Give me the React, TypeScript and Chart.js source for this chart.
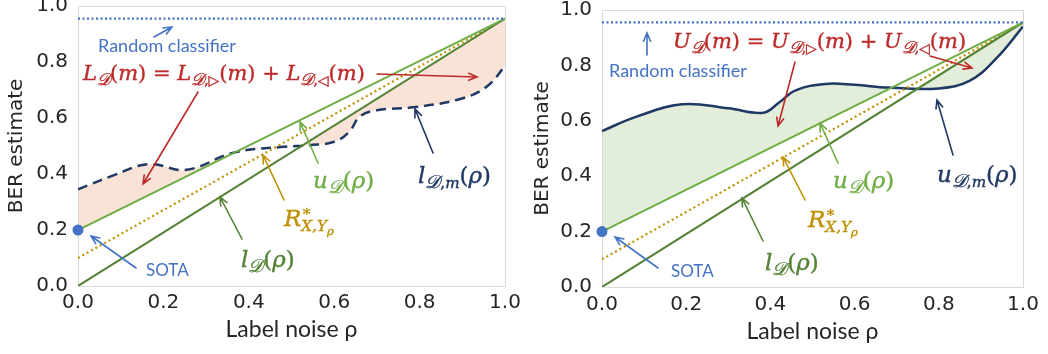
import React, { useEffect, useRef } from 'react';
import { Chart, registerables } from 'chart.js';

Chart.register(...registerables);

// ---------- data ----------
const RHO_ENDS = [0, 1];
const RANDOM_BER = [0.955, 0.955];
const U_D = [0.2, 0.955];
const L_D = [0, 0.955];
const R_STAR = [0.1, 0.955];
const SOTA_RHO = [0];
const SOTA_BER = [0.2];
const LOWER_RHO = [0, 0.083, 0.165, 0.254, 0.364, 0.48, 0.543, 0.6, 0.635, 0.66, 0.7, 0.785, 0.895, 0.957, 1.0];
const LOWER_BER = [0.345, 0.395, 0.435, 0.415, 0.476, 0.497, 0.503, 0.515, 0.55, 0.605, 0.628, 0.638, 0.668, 0.712, 0.785];
const UPPER_RHO = [0, 0.082, 0.19, 0.3, 0.383, 0.42, 0.46, 0.53, 0.6, 0.68, 0.8, 0.874, 0.937, 1.0];
const UPPER_BER = [0.563, 0.615, 0.66, 0.645, 0.629, 0.665, 0.71, 0.733, 0.73, 0.72, 0.717, 0.745, 0.826, 0.94];
const X_TICKS = [0, 0.2, 0.4, 0.6, 0.8, 1.0];
const Y_TICKS = [0, 0.2, 0.4, 0.6, 0.8, 1.0];
const X_TITLE = 'Label noise ρ';
const Y_TITLE = 'BER estimate';

// ---------- styles ----------
const TICK_FONT = "'DejaVu Sans', sans-serif";
const LABEL_FONT = "Lato, 'Open Sans', sans-serif";
const MATH_FONT = "'DejaVu Serif', serif";
const C_BLUE = '#4472C4';
const C_LGREEN = '#70AD47';
const C_DGREEN = '#548235';
const C_ORANGE = '#BF9000';
const C_NAVY = '#1F3864';
const C_RED = '#BE2A2A';
const C_TEXT = '#262626';
const NONE = 'rgba(255,255,255,0)';

type Tok = { t: string; k?: 'i' | 'r'; lvl?: number; stack?: boolean };
const it = (t: string): Tok => ({ t, k: 'i' });
const up = (t: string): Tok => ({ t, k: 'r' });
const sb = (t: string, k: 'i' | 'r' = 'i'): Tok => ({ t, k, lvl: -1 });
const D = '𝒟';

const lowerFormula: Tok[] = [
  it('L'), sb(D), up('('), it('m'), up(')'), up(' = '),
  it('L'), sb(D), sb(',', 'r'), sb('▷', 'r'), up('('), it('m'), up(')'), up(' + '),
  it('L'), sb(D), sb(',', 'r'), sb('◁', 'r'), up('('), it('m'), up(')'),
];
const upperFormula: Tok[] = [
  it('U'), sb(D), up('('), it('m'), up(')'), up(' = '),
  it('U'), sb(D), sb(',', 'r'), sb('▷', 'r'), up('('), it('m'), up(')'), up(' + '),
  it('U'), sb(D), sb(',', 'r'), sb('◁', 'r'), up('('), it('m'), up(')'),
];
const lDm: Tok[] = [it('l'), sb(D), sb(',', 'r'), sb('m'), up('('), it('ρ'), up(')')];
const uDm: Tok[] = [it('u'), sb(D), sb(',', 'r'), sb('m'), up('('), it('ρ'), up(')')];
const uD: Tok[] = [it('u'), sb(D), up('('), it('ρ'), up(')')];
const lD: Tok[] = [it('l'), sb(D), up('('), it('ρ'), up(')')];
const rStar: Tok[] = [it('R'), { t: '∗', k: 'r', lvl: 1, stack: true }, sb('X,Y'), { t: 'ρ', k: 'i', lvl: -2 }];

type Ann =
  | { type: 'arrow'; from: [number, number]; to: [number, number]; color: string }
  | { type: 'text'; x: number; y: number; text: string; size: number; color: string }
  | { type: 'math'; x: number; y: number; toks: Tok[]; size: number; color: string };

function drawMath(ctx: CanvasRenderingContext2D, toks: Tok[], x: number, y: number, size: number, color: string) {
  let cx = x;
  ctx.fillStyle = color;
  ctx.strokeStyle = color;
  ctx.lineWidth = 0.4;
  ctx.textAlign = 'left';
  ctx.textBaseline = 'alphabetic';
  for (const tok of toks) {
    const lvl = tok.lvl ?? 0;
    const isD = tok.t === D;
    const fs = lvl === 0 ? size : lvl === -2 ? size * 0.5 : size * (isD ? 0.8 : 0.66);
    const dy = lvl === 0 ? 0 : lvl === 1 ? -size * 0.42 : lvl === -1 ? size * 0.22 : size * 0.4;
    ctx.font = `${tok.k === 'r' ? '' : 'italic '}${fs.toFixed(1)}px ${MATH_FONT}`;
    const w = ctx.measureText(tok.t).width;
    ctx.fillText(tok.t, cx, y + dy);
    ctx.strokeText(tok.t, cx, y + dy);
    if (!tok.stack) cx += w;
  }
}

function drawArrow(ctx: CanvasRenderingContext2D, x1: number, y1: number, x2: number, y2: number, color: string) {
  const a = Math.atan2(y2 - y1, x2 - x1);
  const h = 9;
  ctx.strokeStyle = color;
  ctx.lineWidth = 1.6;
  ctx.lineCap = 'round';
  ctx.beginPath();
  ctx.moveTo(x1, y1);
  ctx.lineTo(x2, y2);
  ctx.moveTo(x2 - h * Math.cos(a - 0.4), y2 - h * Math.sin(a - 0.4));
  ctx.lineTo(x2, y2);
  ctx.lineTo(x2 - h * Math.cos(a + 0.4), y2 - h * Math.sin(a + 0.4));
  ctx.stroke();
}

type PanelCfg = {
  offsetX: number;
  width: number;
  plot: { left: number; right: number; top: number; bottom: number };
  curveRho: number[];
  curveBer: number[];
  dashed: boolean;
  fillColor: string;
  fillColor2: string;
  yTitlePad: number;
  xTitlePad: number;
  xTickPad: number;
  anns: Ann[];
};

const leftAnns: Ann[] = [
  { type: 'arrow', from: [154, 37], to: [172, 27], color: C_BLUE },
  { type: 'text', x: 98, y: 52, text: 'Random classifier', size: 18, color: C_BLUE },
  { type: 'math', x: 83, y: 80, toks: lowerFormula, size: 21, color: C_RED },
  { type: 'arrow', from: [198, 92], to: [143, 184], color: C_RED },
  { type: 'arrow', from: [377, 74], to: [477, 77], color: C_RED },
  { type: 'arrow', from: [433, 153], to: [415, 109], color: C_NAVY },
  { type: 'math', x: 418, y: 183, toks: lDm, size: 23, color: C_NAVY },
  { type: 'arrow', from: [318, 163], to: [300, 122], color: C_LGREEN },
  { type: 'math', x: 313, y: 188, toks: uD, size: 23, color: C_LGREEN },
  { type: 'arrow', from: [284, 200], to: [263, 155], color: C_ORANGE },
  { type: 'math', x: 284, y: 226, toks: rStar, size: 23, color: C_ORANGE },
  { type: 'arrow', from: [242, 239], to: [220, 197], color: C_DGREEN },
  { type: 'math', x: 241, y: 267, toks: lD, size: 23, color: C_DGREEN },
  { type: 'arrow', from: [136, 268], to: [91, 236], color: C_BLUE },
  { type: 'text', x: 146, y: 276, text: 'SOTA', size: 17, color: C_BLUE },
];

const rightAnns: Ann[] = [
  { type: 'arrow', from: [647, 55], to: [647, 33], color: C_BLUE },
  { type: 'text', x: 609, y: 77, text: 'Random classifier', size: 18, color: C_BLUE },
  { type: 'math', x: 673, y: 48, toks: upperFormula, size: 21, color: C_RED },
  { type: 'arrow', from: [795, 62], to: [778, 126], color: C_RED },
  { type: 'arrow', from: [930, 56], to: [972, 68], color: C_RED },
  { type: 'arrow', from: [953, 155], to: [937, 100], color: C_NAVY },
  { type: 'math', x: 937, y: 182, toks: uDm, size: 23, color: C_NAVY },
  { type: 'arrow', from: [838, 163], to: [820, 123], color: C_LGREEN },
  { type: 'math', x: 833, y: 188, toks: uD, size: 23, color: C_LGREEN },
  { type: 'arrow', from: [805, 200], to: [783, 157], color: C_ORANGE },
  { type: 'math', x: 808, y: 227, toks: rStar, size: 23, color: C_ORANGE },
  { type: 'arrow', from: [763, 241], to: [742, 198], color: C_DGREEN },
  { type: 'math', x: 765, y: 270, toks: lD, size: 23, color: C_DGREEN },
  { type: 'arrow', from: [658, 268], to: [615, 237], color: C_BLUE },
  { type: 'text', x: 671, y: 277, text: 'SOTA', size: 17, color: C_BLUE },
];

const PANELS: PanelCfg[] = [
  {
    offsetX: 0, width: 520,
    plot: { left: 78, right: 505, top: 6, bottom: 286 },
    curveRho: LOWER_RHO, curveBer: LOWER_BER, dashed: true,
    fillColor: '#F9E3D6', fillColor2: 'rgb(249,227,214)', yTitlePad: 5, xTitlePad: 11, xTickPad: 5, anns: leftAnns,
  },
  {
    offsetX: 520, width: 528,
    plot: { left: 82, right: 503, top: 10, bottom: 287 },
    curveRho: UPPER_RHO, curveBer: UPPER_BER, dashed: false,
    fillColor: '#E3EEDA', fillColor2: 'rgb(227,238,218)', yTitlePad: 11, xTitlePad: 9, xTickPad: 6, anns: rightAnns,
  },
];

const pts = (xs: number[], ys: number[]) => xs.map((x, i) => ({ x, y: ys[i] }));

function makeChart(canvas: HTMLCanvasElement, cfg: PanelCfg) {
  const p = cfg.plot;
  const toCanvas = (chart: any, px: number, py: number): [number, number] => {
    const cx = px - cfg.offsetX;
    const rho = (cx - p.left) / (p.right - p.left);
    const v = (p.bottom - py) / (p.bottom - p.top);
    return [chart.scales.x.getPixelForValue(rho), chart.scales.y.getPixelForValue(v)];
  };
  const annPlugin = {
    id: 'annots',
    beforeDatasetsDraw(chart: any) {
      const { ctx, chartArea: a } = chart;
      ctx.save();
      ctx.strokeStyle = '#D9D9D9';
      ctx.lineWidth = 1;
      ctx.strokeRect(Math.round(a.left) + 0.5, Math.round(a.top) + 0.5, Math.round(a.right - a.left), Math.round(a.bottom - a.top));
      ctx.restore();
    },
    afterDraw(chart: any) {
      const ctx = chart.ctx as CanvasRenderingContext2D;
      ctx.save();
      for (const an of cfg.anns) {
        if (an.type === 'arrow') {
          const [x1, y1] = toCanvas(chart, an.from[0], an.from[1]);
          const [x2, y2] = toCanvas(chart, an.to[0], an.to[1]);
          drawArrow(ctx, x1, y1, x2, y2, an.color);
        } else if (an.type === 'text') {
          const [x, y] = toCanvas(chart, an.x, an.y);
          ctx.font = `${an.size}px ${LABEL_FONT}`;
          ctx.fillStyle = an.color;
          ctx.textAlign = 'left';
          ctx.textBaseline = 'alphabetic';
          ctx.fillText(an.text, x, y);
        } else {
          const [x, y] = toCanvas(chart, an.x, an.y);
          drawMath(ctx, an.toks, x, y, an.size, an.color);
        }
      }
      ctx.restore();
    },
  };

  const line = (data: any, color: string, extra: any = {}) => ({
    data, borderColor: color, backgroundColor: color, borderWidth: 2, pointRadius: 0, fill: false, ...extra,
  });

  // dataset 4 is the estimated curve; u_D fills where it lies below the curve,
  // l_D fills where it lies above the curve.
  return new Chart(canvas, {
    type: 'line',
    data: {
      datasets: [
        line(pts(RHO_ENDS, RANDOM_BER), C_BLUE, { borderDash: [2, 2.5], borderWidth: 2.2 }),
        line(pts(RHO_ENDS, U_D), C_LGREEN, {
          backgroundColor: cfg.fillColor,
          fill: { target: 4, above: NONE, below: cfg.fillColor },
        }),
        line(pts(RHO_ENDS, L_D), C_DGREEN, {
          backgroundColor: cfg.fillColor2,
          fill: { target: 4, above: cfg.fillColor2, below: NONE },
        }),
        line(pts(RHO_ENDS, R_STAR), C_ORANGE, { borderDash: [2, 3], borderWidth: 2.2 }),
        line(pts(cfg.curveRho, cfg.curveBer), C_NAVY, {
          borderWidth: 2.5,
          borderDash: cfg.dashed ? [10, 6] : [],
          tension: 0.4,
        }),
        {
          data: pts(SOTA_RHO, SOTA_BER), showLine: false, pointRadius: 5.5, fill: false,
          backgroundColor: C_BLUE, borderColor: C_BLUE,
          pointBackgroundColor: C_BLUE, pointBorderColor: C_BLUE, pointBorderWidth: 0,
          order: -1, clip: false,
        },
      ],
    },
    options: {
      animation: false,
      responsive: false,
      events: [],
      layout: {
        autoPadding: false,
        padding: { left: 0, top: p.top, right: cfg.width - p.right, bottom: 0 },
      },
      plugins: {
        legend: { display: false },
        tooltip: { enabled: false },
        filler: { propagate: false, drawTime: 'beforeDatasetsDraw' },
      },
      scales: {
        x: {
          type: 'linear', min: 0, max: 1,
          afterBuildTicks: (s: any) => { s.ticks = X_TICKS.map((v) => ({ value: v })); },
          afterFit: (s: any) => { s.height = 354 - p.bottom; s.paddingLeft = 0; s.paddingRight = 0; },
          ticks: {
            callback: (v: any) => Number(v).toFixed(1),
            font: { family: TICK_FONT, size: 20 }, color: C_TEXT, padding: cfg.xTickPad, maxRotation: 0,
          },
          grid: { display: false, drawTicks: false },
          border: { display: false },
          title: {
            display: true, text: X_TITLE, color: C_TEXT,
            font: { family: LABEL_FONT, size: 23 }, padding: { top: 0, bottom: cfg.xTitlePad },
          },
        },
        y: {
          type: 'linear', min: 0, max: 1,
          afterBuildTicks: (s: any) => { s.ticks = Y_TICKS.map((v) => ({ value: v })); },
          afterFit: (s: any) => { s.width = p.left; s.paddingTop = 0; s.paddingBottom = 0; },
          ticks: {
            callback: (v: any) => Number(v).toFixed(1),
            font: { family: TICK_FONT, size: 20 }, color: C_TEXT, padding: 10,
          },
          grid: { display: false, drawTicks: false },
          border: { display: false },
          title: {
            display: true, text: Y_TITLE, color: C_TEXT,
            font: { family: TICK_FONT, size: 20 }, padding: { top: cfg.yTitlePad, bottom: 0 },
          },
        },
      },
    } as any,
    plugins: [annPlugin],
  });
}

function Panel({ cfg }: { cfg: PanelCfg }) {
  const ref = useRef<HTMLCanvasElement>(null);
  useEffect(() => {
    if (!ref.current) return;
    const chart = makeChart(ref.current, cfg);
    return () => chart.destroy();
  }, [cfg]);
  return (
    <canvas
      ref={ref}
      width={cfg.width}
      height={354}
      style={{ position: 'absolute', left: cfg.offsetX, top: 0, width: cfg.width, height: 354 }}
    />
  );
}

export default function App() {
  useEffect(() => {
    document.body.style.margin = '0';
  }, []);
  return (
    <div style={{ position: 'absolute', left: 0, top: 0, width: 1048, height: 354, background: '#fff' }}>
      {PANELS.map((c, i) => (
        <Panel key={i} cfg={c} />
      ))}
    </div>
  );
}
